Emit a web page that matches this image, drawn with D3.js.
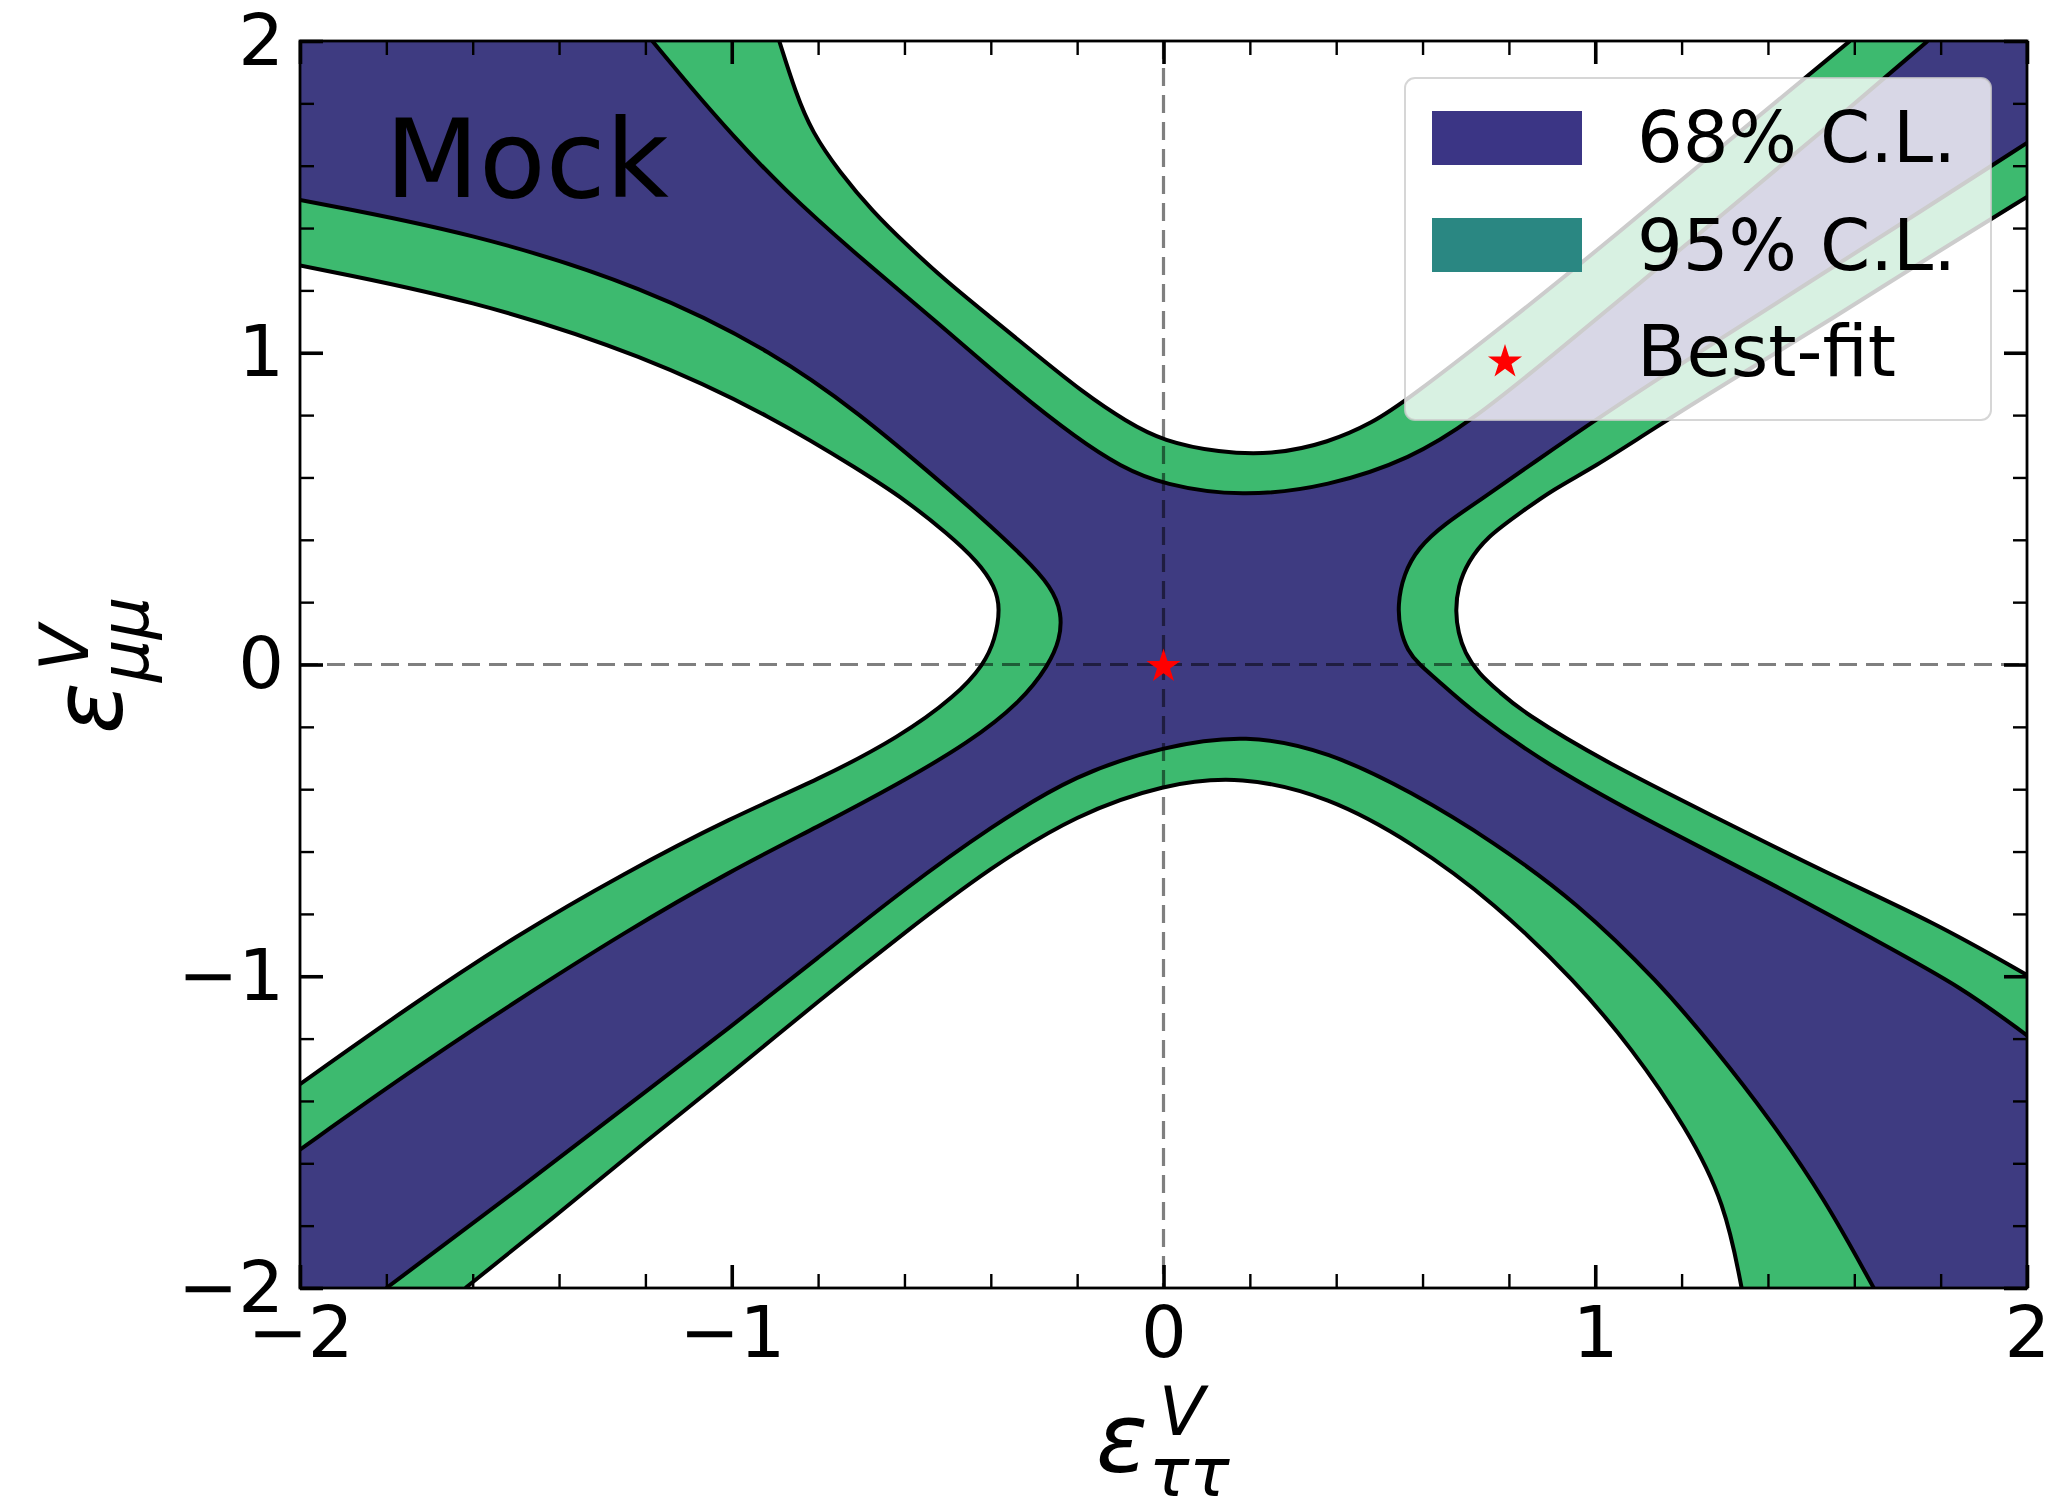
<!DOCTYPE html>
<html><head><meta charset="utf-8">
<script src="https://cdn.jsdelivr.net/npm/d3@7"></script>
<style>body{margin:0;background:#fff}svg{display:block}</style>
</head><body>
<svg id="chart" width="2045" height="1497"></svg>
<script>
// ---------------- data ----------------
const xTicks = [-2, -1, 0, 1, 2];
const yTicks = [-2, -1, 0, 1, 2];
const minorTicks = [-1.8, -1.6, -1.4, -1.2, -0.8, -0.6, -0.4, -0.2, 0.2, 0.4, 0.6, 0.8, 1.2, 1.4, 1.6, 1.8];

// contour boundaries, [eps_tautau, eps_mumu]
const contour68Top = [[-1.184,2],[-1.10,1.86],[-1.0,1.70],[-0.88,1.525],[-0.72,1.325],[-0.53,1.105],[-0.344,0.88],[-0.20,0.725],[-0.10,0.635],[0,0.576],[0.18,0.537],[0.383,0.571],[0.574,0.661],[0.714,0.782],[0.90,0.99],[1.10,1.22],[1.30,1.45],[1.50,1.68],[1.77,2]];
const contour95Top = [[-0.89,2],[-0.852,1.834],[-0.814,1.707],[-0.75,1.579],[-0.673,1.452],[-0.597,1.349],[-0.508,1.235],[-0.406,1.12],[-0.30,1.0],[-0.184,0.87],[-0.087,0.78],[0,0.716],[0.128,0.68],[0.255,0.673],[0.383,0.712],[0.485,0.776],[0.561,0.845],[0.80,1.10],[1.05,1.38],[1.30,1.67],[1.59,2]];
const contour68Left = [[-2,1.49],[-1.6,1.385],[-1.2,1.21],[-0.9,1.0],[-0.7,0.80],[-0.55,0.625],[-0.42,0.47],[-0.32,0.34],[-0.26,0.25],[-0.235,0.165],[-0.24,0.08],[-0.265,0],[-0.33,-0.12],[-0.45,-0.25],[-0.61,-0.38],[-0.8,-0.52],[-1.0,-0.66],[-1.25,-0.86],[-1.5,-1.08],[-1.75,-1.31],[-2,-1.556]];
const contour95Left = [[-2,1.28],[-1.6,1.17],[-1.2,0.99],[-0.9,0.79],[-0.7,0.62],[-0.6,0.53],[-0.5,0.42],[-0.43,0.33],[-0.39,0.25],[-0.378,0.18],[-0.39,0.08],[-0.416,0],[-0.48,-0.10],[-0.61,-0.232],[-0.8,-0.37],[-1.0,-0.49],[-1.25,-0.67],[-1.5,-0.87],[-1.75,-1.10],[-2,-1.346]];
const contour68Right = [[2,1.673],[1.75,1.45],[1.5,1.23],[1.25,1.01],[1.0,0.785],[0.86,0.65],[0.733,0.527],[0.65,0.45],[0.59,0.375],[0.556,0.29],[0.542,0.19],[0.548,0.11],[0.565,0.045],[0.592,0],[0.635,-0.05],[0.714,-0.15],[0.893,-0.327],[1.148,-0.52],[1.403,-0.698],[1.658,-0.891],[1.85,-1.036],[2,-1.19]];
const contour95Right = [[2,1.50],[1.8,1.33],[1.55,1.11],[1.3,0.90],[1.122,0.745],[1.0,0.635],[0.90,0.56],[0.82,0.48],[0.75,0.41],[0.705,0.33],[0.682,0.25],[0.676,0.17],[0.683,0.10],[0.697,0.04],[0.73,-0.03],[0.78,-0.09],[0.829,-0.15],[1.02,-0.311],[1.276,-0.488],[1.531,-0.666],[1.786,-0.827],[2,-0.996]];
const contour68Bottom = [[-1.80,-2],[-1.5,-1.69],[-1.2,-1.37],[-1.0,-1.16],[-0.8,-0.94],[-0.6,-0.72],[-0.4,-0.52],[-0.2,-0.35],[0,-0.263],[0.191,-0.222],[0.383,-0.279],[0.574,-0.408],[0.765,-0.569],[0.957,-0.762],[1.148,-1.02],[1.276,-1.23],[1.403,-1.455],[1.531,-1.713],[1.645,-2]];
const contour95Bottom = [[-1.617,-2],[-1.4,-1.76],[-1.2,-1.53],[-1.0,-1.31],[-0.8,-1.08],[-0.6,-0.86],[-0.4,-0.65],[-0.2,-0.48],[0,-0.384],[0.179,-0.356],[0.383,-0.424],[0.574,-0.569],[0.765,-0.762],[0.957,-1.02],[1.084,-1.23],[1.212,-1.487],[1.301,-1.729],[1.339,-2]];

const bestFit = [0, 0];
const legendLabels = ["68% C.L.", "95% C.L.", "Best-fit"];
const panelLabel = "Mock";

// ---------------- layout ----------------
const m = {left: 300, right: 2027, top: 41, bottom: 1288};
const C68 = "#3e3b81", C95 = "#3dba6f";
const L68 = "#3b3585", L95 = "#2a8782";
const FONT = "'DejaVu Sans', sans-serif";

const x = d3.scaleLinear().domain([-2, 2]).range([m.left, m.right]);
const y = d3.scaleLinear().domain([-2, 2]).range([m.bottom, m.top]);

const svg = d3.select("#chart");
svg.append("defs").append("clipPath").attr("id", "clip")
  .append("rect").attr("x", m.left).attr("y", m.top)
  .attr("width", m.right - m.left).attr("height", m.bottom - m.top);

const plot = svg.append("g").attr("clip-path", "url(#clip)");
plot.append("rect").attr("x", m.left).attr("y", m.top)
  .attr("width", m.right - m.left).attr("height", m.bottom - m.top).attr("fill", C68);

const line = d3.line().x(d => x(d[0])).y(d => y(d[1])).curve(d3.curveBasis);

function lobe(pts, side) {
  const f = pts[0], l = pts[pts.length - 1];
  let extra;
  if (side === "top") extra = [[l[0], 3], [f[0], 3]];
  if (side === "bottom") extra = [[l[0], -3], [f[0], -3]];
  if (side === "left") extra = [[-3, l[1]], [-3, f[1]]];
  if (side === "right") extra = [[3, l[1]], [3, f[1]]];
  return line(pts) + extra.map(e => "L" + x(e[0]) + "," + y(e[1])).join("") + "Z";
}

const lobes = [
  {c68: contour68Top, c95: contour95Top, side: "top"},
  {c68: contour68Left, c95: contour95Left, side: "left"},
  {c68: contour68Right, c95: contour95Right, side: "right"},
  {c68: contour68Bottom, c95: contour95Bottom, side: "bottom"}
];
lobes.forEach(d => plot.append("path").attr("d", lobe(d.c68, d.side)).attr("fill", C95));
lobes.forEach(d => plot.append("path").attr("d", lobe(d.c95, d.side)).attr("fill", "#ffffff"));
lobes.forEach(d => {
  [d.c68, d.c95].forEach(c => plot.append("path").attr("d", line(c))
    .attr("fill", "none").attr("stroke", "#000").attr("stroke-width", 4).attr("stroke-linejoin", "round"));
});

// dashed reference lines
plot.append("line").attr("x1", x(0)).attr("x2", x(0)).attr("y1", m.top).attr("y2", m.bottom)
  .attr("stroke", "#000").attr("stroke-opacity", 0.5).attr("stroke-width", 3.2).attr("stroke-dasharray", "18,9");
plot.append("line").attr("x1", m.left).attr("x2", m.right).attr("y1", y(0)).attr("y2", y(0))
  .attr("stroke", "#000").attr("stroke-opacity", 0.5).attr("stroke-width", 3.2).attr("stroke-dasharray", "18,9");

// best fit star
const starPath = d3.symbol(d3.symbolStar, 360)();
plot.append("path").attr("d", starPath)
  .attr("transform", `translate(${x(bestFit[0])},${y(bestFit[1]) + 2})`).attr("fill", "#ff0000");

// panel label
svg.append("text").attr("x", 385).attr("y", 197).text(panelLabel)
  .attr("font-family", FONT).attr("font-size", 109).attr("fill", "#000");

// ---------------- axes ----------------
function styleAxis(g, w) {
  g.select(".domain").remove();
  g.selectAll(".tick line").attr("stroke", "#000").attr("stroke-width", w);
  g.selectAll("text").attr("font-family", FONT).attr("font-size", 72).attr("fill", "#000");
}
const fmt = d3.format("d");
const MAJ = 23, MIN = 14;
svg.append("g").attr("transform", `translate(0,${m.bottom})`)
  .call(d3.axisBottom(x).tickValues(xTicks).tickSize(-MAJ).tickPadding(18).tickFormat(fmt)).call(g => styleAxis(g, 3.6));
svg.append("g").attr("transform", `translate(0,${m.bottom})`)
  .call(d3.axisBottom(x).tickValues(minorTicks).tickSize(-MIN).tickFormat("")).call(g => styleAxis(g, 2.4));
svg.append("g").attr("transform", `translate(0,${m.top})`)
  .call(d3.axisTop(x).tickValues(xTicks).tickSize(-MAJ).tickFormat("")).call(g => styleAxis(g, 3.6));
svg.append("g").attr("transform", `translate(0,${m.top})`)
  .call(d3.axisTop(x).tickValues(minorTicks).tickSize(-MIN).tickFormat("")).call(g => styleAxis(g, 2.4));
svg.append("g").attr("transform", `translate(${m.left},0)`)
  .call(d3.axisLeft(y).tickValues(yTicks).tickSize(-MAJ).tickPadding(16).tickFormat(fmt)).call(g => styleAxis(g, 3.6));
svg.append("g").attr("transform", `translate(${m.left},0)`)
  .call(d3.axisLeft(y).tickValues(minorTicks).tickSize(-MIN).tickFormat("")).call(g => styleAxis(g, 2.4));
svg.append("g").attr("transform", `translate(${m.right},0)`)
  .call(d3.axisRight(y).tickValues(yTicks).tickSize(-MAJ).tickFormat("")).call(g => styleAxis(g, 3.6));
svg.append("g").attr("transform", `translate(${m.right},0)`)
  .call(d3.axisRight(y).tickValues(minorTicks).tickSize(-MIN).tickFormat("")).call(g => styleAxis(g, 2.4));

svg.append("rect").attr("x", m.left).attr("y", m.top)
  .attr("width", m.right - m.left).attr("height", m.bottom - m.top)
  .attr("fill", "none").attr("stroke", "#000").attr("stroke-width", 2.8);

// axis labels
const xl = svg.append("g").attr("transform", "translate(1096,1472)")
  .attr("font-family", FONT).attr("font-style", "italic").attr("fill", "#000");
xl.append("text").attr("x", 0).attr("y", 0).attr("font-size", 96).text("ε");
xl.append("text").attr("x", 63).attr("y", -37).attr("font-size", 67).text("V");
xl.append("text").attr("x", 53).attr("y", 24).attr("font-size", 67).text("ττ");

const yl = svg.append("g").attr("transform", "translate(122,734) rotate(-90)")
  .attr("font-family", FONT).attr("font-style", "italic").attr("fill", "#000");
yl.append("text").attr("x", 0).attr("y", 0).attr("font-size", 96).text("ε");
yl.append("text").attr("x", 63).attr("y", -34).attr("font-size", 67).text("V");
yl.append("text").attr("x", 52).attr("y", 26).attr("font-size", 67).text("μμ");

// ---------------- legend ----------------
const lg = svg.append("g");
lg.append("rect").attr("x", 1405).attr("y", 78).attr("width", 586).attr("height", 342).attr("rx", 10)
  .attr("fill", "#ffffff").attr("fill-opacity", 0.8).attr("stroke", "#cccccc").attr("stroke-opacity", 0.8).attr("stroke-width", 2);
const legRows = [111, 218];
[L68, L95].forEach((c, i) => lg.append("rect").attr("x", 1432).attr("y", legRows[i])
  .attr("width", 150).attr("height", 54).attr("fill", c));
lg.append("path").attr("d", starPath).attr("transform", "translate(1505,362)").attr("fill", "#ff0000");
const legBase = [162, 270, 376];
legendLabels.forEach((t, i) => lg.append("text").attr("x", 1637).attr("y", legBase[i]).text(t)
  .attr("font-family", FONT).attr("font-size", 72).attr("fill", "#000"));
</script>
</body></html>
